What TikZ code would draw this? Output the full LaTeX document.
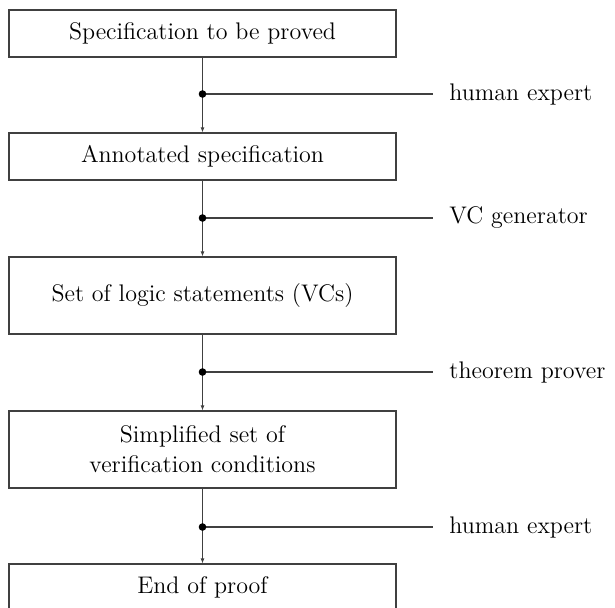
\documentclass[tikz,border=0pt]{standalone}
\usetikzlibrary{arrows.meta}
\begin{document}
\begin{tikzpicture}[x=0.5pt,y=-0.5pt,
  stagebox/.style={draw=black!75, line width=0.6pt, minimum width=193.5pt, inner sep=0pt, align=center, font=\fontsize{12}{15}\selectfont},
  short/.style={minimum height=23.5pt},
  tall/.style={minimum height=38.5pt},
  flow/.style={draw=black!75, line width=0.5pt, -{Latex[length=2.5pt,width=2pt]}},
  tapline/.style={draw=black!75, line width=0.6pt},
  tapdot/.style={fill=black},
  toollabel/.style={anchor=west, inner xsep=8pt, inner ysep=0pt, font=\fontsize{12}{15}\selectfont}]
\useasboundingbox (0,0) rectangle (615,607);
\node[stagebox,short] (b1) at (202.5,33.5) {Specification to be proved};
\node[stagebox,short] (b2) at (202.5,156.5) {Annotated specification};
\node[stagebox,tall] (b3) at (202.5,295.5) {Set of logic statements (VCs)};
\node[stagebox,tall] (b4) at (202.5,449.5) {Simplified set of\\verification conditions};
\node[stagebox,short] (b5) at (202.5,587.5) {End of proof};
\coordinate (d1) at (202.5,94);
\coordinate (d2) at (202.5,218);
\coordinate (d3) at (202.5,372);
\coordinate (d4) at (202.5,527);
\node[toollabel] (l1) at (433,94) {human expert};
\node[toollabel] (l2) at (433,218) {VC generator};
\node[toollabel] (l3) at (433,372) {theorem prover};
\node[toollabel] (l4) at (433,527) {human expert};
\draw[flow] (b1) -- (b2);
\draw[flow] (b2) -- (b3);
\draw[flow] (b3) -- (b4);
\draw[flow] (b4) -- (b5);
\foreach \i in {1,2,3,4}{
  \draw[tapline] (d\i) -- (l\i.west);
  \fill[tapdot] (d\i) circle (3.8);
}
\end{tikzpicture}
\end{document}
